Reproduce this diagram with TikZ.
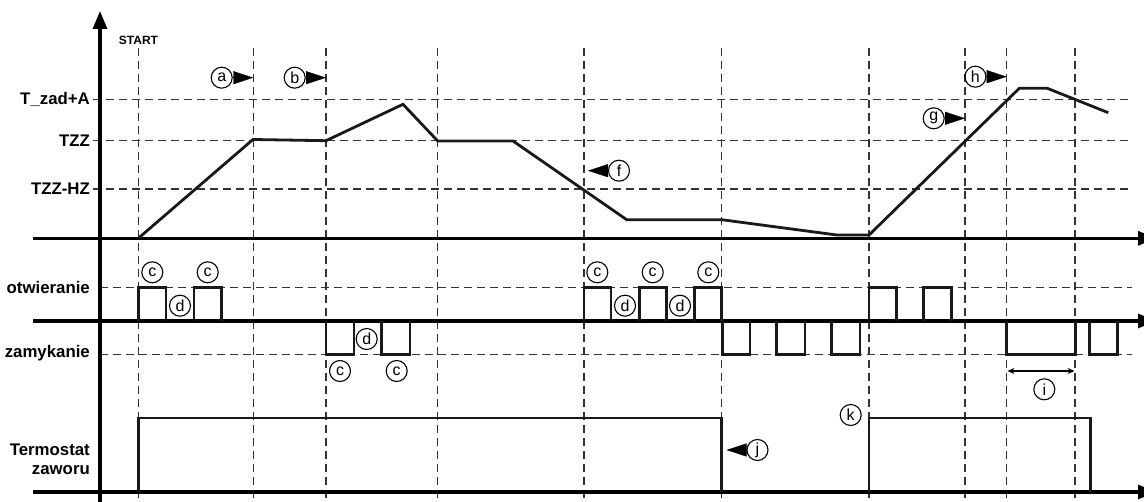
\documentclass[tikz,border=0pt]{standalone}
\usepackage{fontspec}
\setmainfont{Liberation Sans}
\usetikzlibrary{arrows.meta}
\begin{document}
\begin{tikzpicture}[x=1pt,y=-1pt,
  axis/.style={line width=3.2pt,-{Triangle[length=18pt,width=14pt]}},
  grid/.style={line width=1.3pt,dash pattern=on 8pt off 5pt,black!80},
  sig/.style={line width=2.8pt,line join=miter,black!90},
  lab/.style={font=\fontsize{16.8}{19}\selectfont\bfseries,anchor=east,align=right,inner sep=0pt},
  call/.style={circle,draw,line width=1.1pt,minimum size=21pt,inner sep=0pt,font=\fontsize{16}{17}\selectfont},
  ptr/.style={line width=0.4pt,-{Triangle[length=20pt,width=13pt]}},
  dim/.style={line width=1.3pt,{Stealth[length=7pt,width=6pt]}-{Stealth[length=7pt,width=6pt]}}
  ]
\useasboundingbox (0,0) rectangle (1144,502);
\clip (0,0) rectangle (1144,502);
% grid
\foreach \x in {138.3,253.3,326,437.7,584,721.7,869,965,1006.7,1075}
  \draw[grid] (\x,48) -- (\x,502);
\foreach \y in {99.3,140.7,189}
  \draw[grid] (93,\y) -- (1132,\y);
\foreach \y in {287.7,354.3}
  \draw[grid] (100,\y) -- (1132,\y);
% axes
\draw[axis] (100,502) -- (100,11);
\foreach \y in {238.3,321,492}
  \draw[axis] (33,\y) -- (1156,\y);
% labels
\node[lab] (l1) at (90,99.3) {T\_zad+A};
\node[lab] (l2) at (90,140.7) {TZZ};
\node[lab] (l3) at (90,189) {TZZ-HZ};
\node[lab] (l4) at (90,287.7) {otwieranie};
\node[lab] (l5) at (90,353.3) {zamykanie};
\node[lab] (l6) at (90,459.7) {Termostat\\zaworu};
\node[font=\fontsize{12}{13}\selectfont\bfseries,inner sep=0pt] (start) at (138.5,40) {START};
% temperature curve
\draw[sig] (138.3,238.3) -- (253,139.5) -- (326,140.7) -- (403,104.3) -- (437.7,141)
  -- (513,141) -- (626.7,219.7) -- (721.7,219.7) -- (836.7,235) -- (869,235)
  -- (1019.3,88.3) -- (1047.3,88.3) -- (1108.3,112.7);
% opening pulses
\foreach \a/\b in {138.3/166,194/221.7,584/611,639.3/666.7,694.3/721.7,869/896.7,923.3/951.7}
  \draw[sig] (\a,321) -- (\a,287.7) -- (\b,287.7) -- (\b,321);
% closing pulses
\foreach \a/\b in {326/354,381.7/410,722.7/750,776.7/805,831.7/860,1006.7/1075.7,1089.3/1117.7}
  \draw[sig] (\a,321) -- (\a,354.3) -- (\b,354.3) -- (\b,321);
% thermostat
\draw[sig] (138.3,492) -- (138.3,418) -- (721.7,418) -- (721.7,492);
\draw[sig] (869,492) -- (869,418) -- (1090.7,418) -- (1090.7,492);
% callouts with pointers
\node[call] (a) at (221.7,77.7) {a};
\coordinate (at) at (253.3,77.7);
\draw[ptr] (a) -- (at);
\node[call] (b) at (294.7,77.7) {b};
\coordinate (bt) at (326,77.7);
\draw[ptr] (b) -- (bt);
\node[call] (f) at (619,170.7) {f};
\coordinate (ft) at (588,170.7);
\draw[ptr] (f) -- (ft);
\node[call] (g) at (933.7,118.3) {g};
\coordinate (gt) at (965,118.3);
\draw[ptr] (g) -- (gt);
\node[call] (h) at (975.4,76.7) {h};
\coordinate (ht) at (1006.7,76.7);
\draw[ptr] (h) -- (ht);
\node[call] (j) at (757.5,450) {j};
\coordinate (jt) at (726.5,450);
\draw[ptr] (j) -- (jt);
\node[call] (k) at (850.7,415) {k};
% c / d markers
\node[call] (c1) at (152.3,272.3) {c};
\node[call] (c2) at (207.7,272.3) {c};
\node[call] (c3) at (597.3,272.3) {c};
\node[call] (c4) at (652.7,272.3) {c};
\node[call] (c5) at (708.3,272.3) {c};
\node[call] (d1) at (180,305.7) {d};
\node[call] (d2) at (625,305.7) {d};
\node[call] (d3) at (680,305.7) {d};
\node[call] (c6) at (340,371) {c};
\node[call] (c7) at (396.7,371) {c};
\node[call] (d4) at (366.7,339) {d};
% interval i
\coordinate (i1) at (1007.5,371);
\coordinate (i2) at (1074.5,371);
\draw[dim] (i1) -- (i2);
\node[call] (i) at (1044.3,389.3) {i};
\end{tikzpicture}
\end{document}
